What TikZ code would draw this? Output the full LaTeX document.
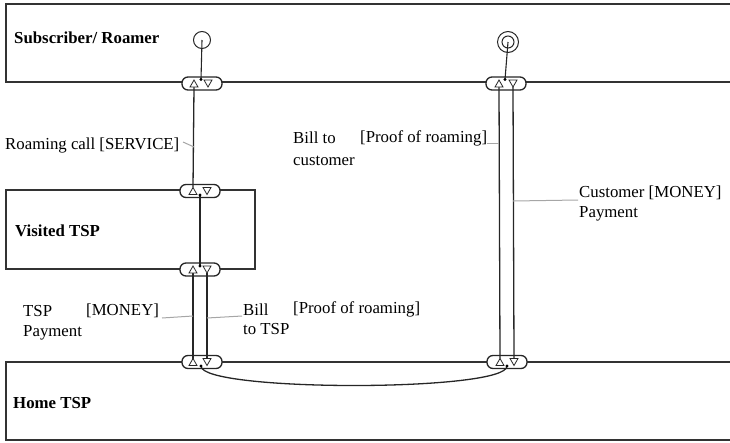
\documentclass[tikz,border=0pt]{standalone}
\usepackage{fontspec}
\setmainfont{Liberation Serif}
\tikzset{
  box/.style={draw=black!80, line width=1.6pt},
  port/.style={draw=black!85, fill=white, line width=1.3pt, rounded corners=6pt,
    minimum width=40pt, minimum height=13pt, inner sep=0pt},
  flow/.style={draw=black!85, line width=1.3pt},
  leader/.style={draw=black!35, line width=1pt},
  lbl/.style={font=\fontsize{16.8}{20}\selectfont, inner sep=0pt, anchor=base west},
  ttl/.style={font=\bfseries\fontsize{16.8}{20}\selectfont, inner sep=0pt, anchor=base west},
  uptri/.pic={\draw[black!85, fill=white, line width=0.8pt] (-4,3.5)--(4,3.5)--(0,-3.5)--cycle;},
  dntri/.pic={\draw[black!85, fill=white, line width=0.8pt] (-4,-3.5)--(4,-3.5)--(0,3.5)--cycle;},
}
\begin{document}
\begin{tikzpicture}[x=1pt,y=-1pt]
\useasboundingbox (0,0) rectangle (730,442);
\clip (0,0) rectangle (730,442);
% boxes
\draw[box] (6,4) rectangle (760,82);
\draw[box] (6,190) rectangle (255,269);
\draw[box] (6,362) rectangle (760,440);
\node[ttl] (tsub) at (14,43) {Subscriber/ Roamer};
\node[ttl] (tvis) at (15,236) {Visited TSP};
\node[ttl] (thome) at (13,408) {Home TSP};
% antennas
\draw[black!85, line width=1pt] (202,40) circle (8.5);
\coordinate (ant1) at (202,40);
\draw[black!85, line width=1pt] (508,42) circle (10.5) (508,42) circle (6);
\coordinate (ant2) at (508,42);
% ports
\node[port] (S1) at (202,83.5) {};
\node[port] (S2) at (506,83.5) {};
\node[port] (V1) at (200,191) {};
\node[port] (V2) at (200,269.5) {};
\node[port] (H1) at (202,362) {};
\node[port] (H2) at (507,362) {};
% triangle points
\foreach \p/\cx/\cy in {S1/201/83.5, S2/506/83.5, V1/200/191, V2/200/269.5, H1/200/362, H2/507/362}{
  \coordinate (\p ub) at (\cx-7,\cy+3.5);
  \coordinate (\p ua) at (\cx-7,\cy-3.5);
  \coordinate (\p db) at (\cx+7,\cy-3.5);
  \coordinate (\p da) at (\cx+7,\cy+3.5);
  \coordinate (\p u) at (\cx-7,\cy);
  \coordinate (\p d) at (\cx+7,\cy);
}
\coordinate (S1dot) at (201,79.5);
\coordinate (S2dot) at (505,79.5);
\coordinate (V1dot) at (200,195);
\coordinate (V2dot) at (200,266);
\coordinate (H1dot) at (201,366);
\coordinate (H2dot) at (507,366);
% flows
\draw[flow, line width=1.1pt] (ant1) -- (S1dot);
\draw[flow, line width=1.1pt] (ant2) -- (S2dot);
\draw[flow] (V1ua) -- (S1ub);
\draw[flow] (V1dot) -- (V2dot);
\draw[flow] (H1ua) -- (V2ub);
\draw[flow] (V2da) -- (H1db);
\draw[flow] (H2ua) -- (S2ub);
\draw[flow] (S2da) -- (H2db);
\draw[flow] (H1dot) .. controls (201,392) and (507,392) .. (H2dot);
% triangles
\foreach \p in {S1,S2,V1,V2,H1,H2}{
  \pic at (\p u) {uptri};
  \pic at (\p d) {dntri};
}
\foreach \p in {S1dot,S2dot,V1dot,V2dot,H1dot,H2dot}{
  \fill[black] (\p) circle (1.6);
}
% labels
\node[lbl] (l1) at (5,149) {Roaming call [SERVICE]};
\coordinate (l1e) at (194,147);
\draw[leader] (183,142) -- (l1e);

\node[lbl] (l2a) at (293,143) {Bill to};
\node[lbl] (l2b) at (293,165) {customer};
\node[lbl] (l2c) at (360,142) {[Proof of roaming]};
\coordinate (l2e) at (499,143);
\draw[leader] (l2c.east |- 0,143) -- (l2e);

\node[lbl] (l3a) at (579,197) {Customer [MONEY]};
\node[lbl] (l3b) at (579,217) {Payment};
\coordinate (l3e) at (513,201);
\draw[leader] (l3e) -- (578,200);

\node[lbl] (l4a) at (23,316) {TSP};
\node[lbl] (l4c) at (86,315) {[MONEY]};
\node[lbl] (l4b) at (23,336) {Payment};
\coordinate (l4e) at (193,316);
\draw[leader] (162,318) -- (l4e);

\node[lbl] (l5a) at (243,315) {Bill};
\node[lbl] (l5b) at (243,334) {to TSP};
\node[lbl] (l5c) at (293,313) {[Proof of roaming]};
\coordinate (l5e) at (207,318);
\draw[leader] (l5e) -- (242,316);
\end{tikzpicture}
\end{document}
